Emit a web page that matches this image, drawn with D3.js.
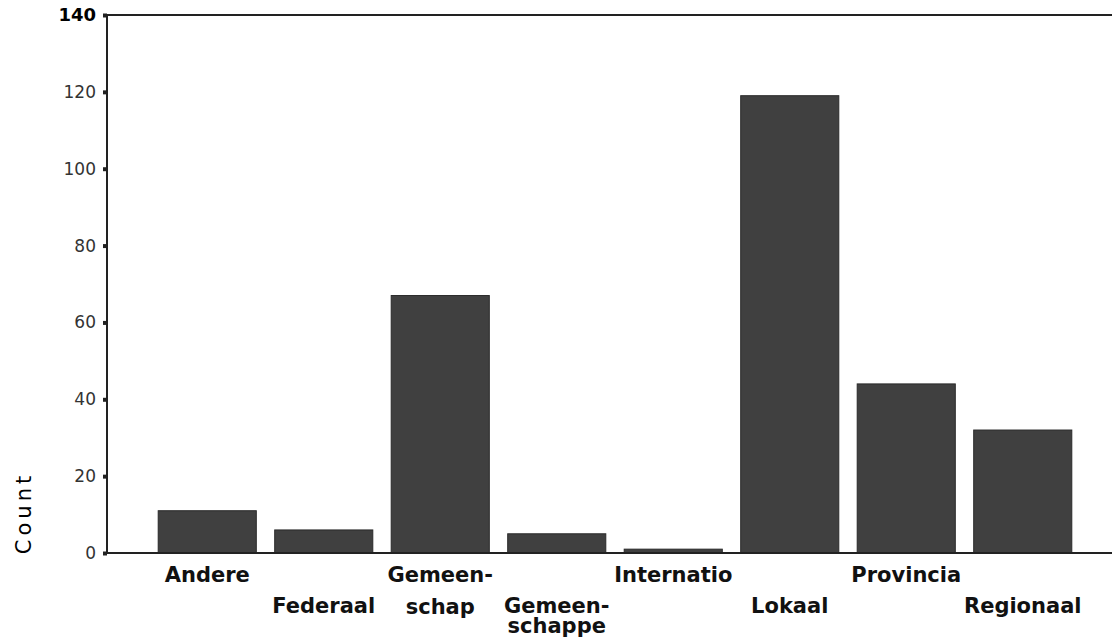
<!DOCTYPE html>
<html>
<head>
<meta charset="utf-8">
<script src="https://cdn.jsdelivr.net/npm/d3@7"></script>
<style>
  html, body { margin: 0; padding: 0; background: #fff; }
  svg { display: block; }
</style>
</head>
<body>
<svg id="chart" width="1112" height="640"></svg>
<script>
const categories = ["Andere", "Federaal", "Gemeenschap", "Gemeenschappe", "Internatio", "Lokaal", "Provincia", "Regionaal"];
const labelLines = [["Andere"], ["Federaal"], ["Gemeen-", "schap"], ["Gemeen-", "schappe"], ["Internatio"], ["Lokaal"], ["Provincia"], ["Regionaal"]];
const counts = [11, 6, 67, 5, 1, 119, 44, 32];
const yTicks = [0, 20, 40, 60, 80, 100, 120, 140];
const yTitle = "Count";

(function () {
const svg = d3.select("#chart");
const mLeft = 107, mRight = 1112, mTop = 15, mBottom = 553;

const x = d3.scaleBand()
  .domain(categories)
  .range([149, 1081])
  .paddingInner(0.158)
  .paddingOuter(0.079);

const y = d3.scaleLinear().domain([0, 140]).range([mBottom, mTop]);

// bars
svg.append("g").selectAll("rect")
  .data(categories)
  .enter().append("rect")
  .attr("x", d => x(d))
  .attr("y", (d, i) => y(counts[i]))
  .attr("width", x.bandwidth())
  .attr("height", (d, i) => mBottom - y(counts[i]))
  .attr("fill", "#404040")
  .attr("stroke", "#2a2a2a")
  .attr("stroke-width", 1);

// frame lines
svg.append("line").attr("x1", mLeft).attr("x2", mRight).attr("y1", mTop).attr("y2", mTop)
  .attr("stroke", "#222").attr("stroke-width", 2);
svg.append("line").attr("x1", mLeft).attr("x2", mRight).attr("y1", mBottom).attr("y2", mBottom)
  .attr("stroke", "#222").attr("stroke-width", 2);

// y axis
const yAxis = d3.axisLeft(y).tickValues(yTicks).tickSize(4).tickPadding(7);
const gy = svg.append("g").attr("transform", `translate(${mLeft},0)`).call(yAxis);
gy.select(".domain").attr("stroke", "#222").attr("stroke-width", 2)
  .attr("d", `M0,${mTop}V${mBottom}`);
gy.selectAll(".tick line").attr("stroke", "#222").attr("stroke-width", 4);
gy.selectAll(".tick text")
  .attr("font-family", "DejaVu Sans")
  .attr("font-size", d => d === 140 ? 18 : 17)
  .attr("font-weight", d => d === 140 ? "bold" : "normal")
  .attr("fill", d => d === 140 ? "#000" : "#333");

// x labels (staggered)
const xl = svg.append("g");
categories.forEach((c, i) => {
  const cx = x(c) + x.bandwidth() / 2;
  const firstRow = i % 2 === 0;
  const baseY = firstRow ? 582 : 613;
  const lineGap = firstRow ? 32 : 20;
  const t = xl.append("text")
    .attr("x", cx)
    .attr("y", baseY)
    .attr("text-anchor", "middle")
    .attr("font-family", "DejaVu Sans")
    .attr("font-weight", "bold")
    .attr("font-size", 21)
    .attr("fill", "#111");
  labelLines[i].forEach((ln, j) => {
    t.append("tspan").attr("x", cx).attr("dy", j === 0 ? 0 : lineGap).text(ln);
  });
});

// y title
svg.append("text")
  .attr("transform", "translate(31,513) rotate(-90)")
  .attr("text-anchor", "middle")
  .attr("font-family", "DejaVu Sans")
  .attr("font-size", 21)
  .attr("letter-spacing", 4)
  .attr("fill", "#000")
  .text(yTitle);
})();
</script>
</body>
</html>
